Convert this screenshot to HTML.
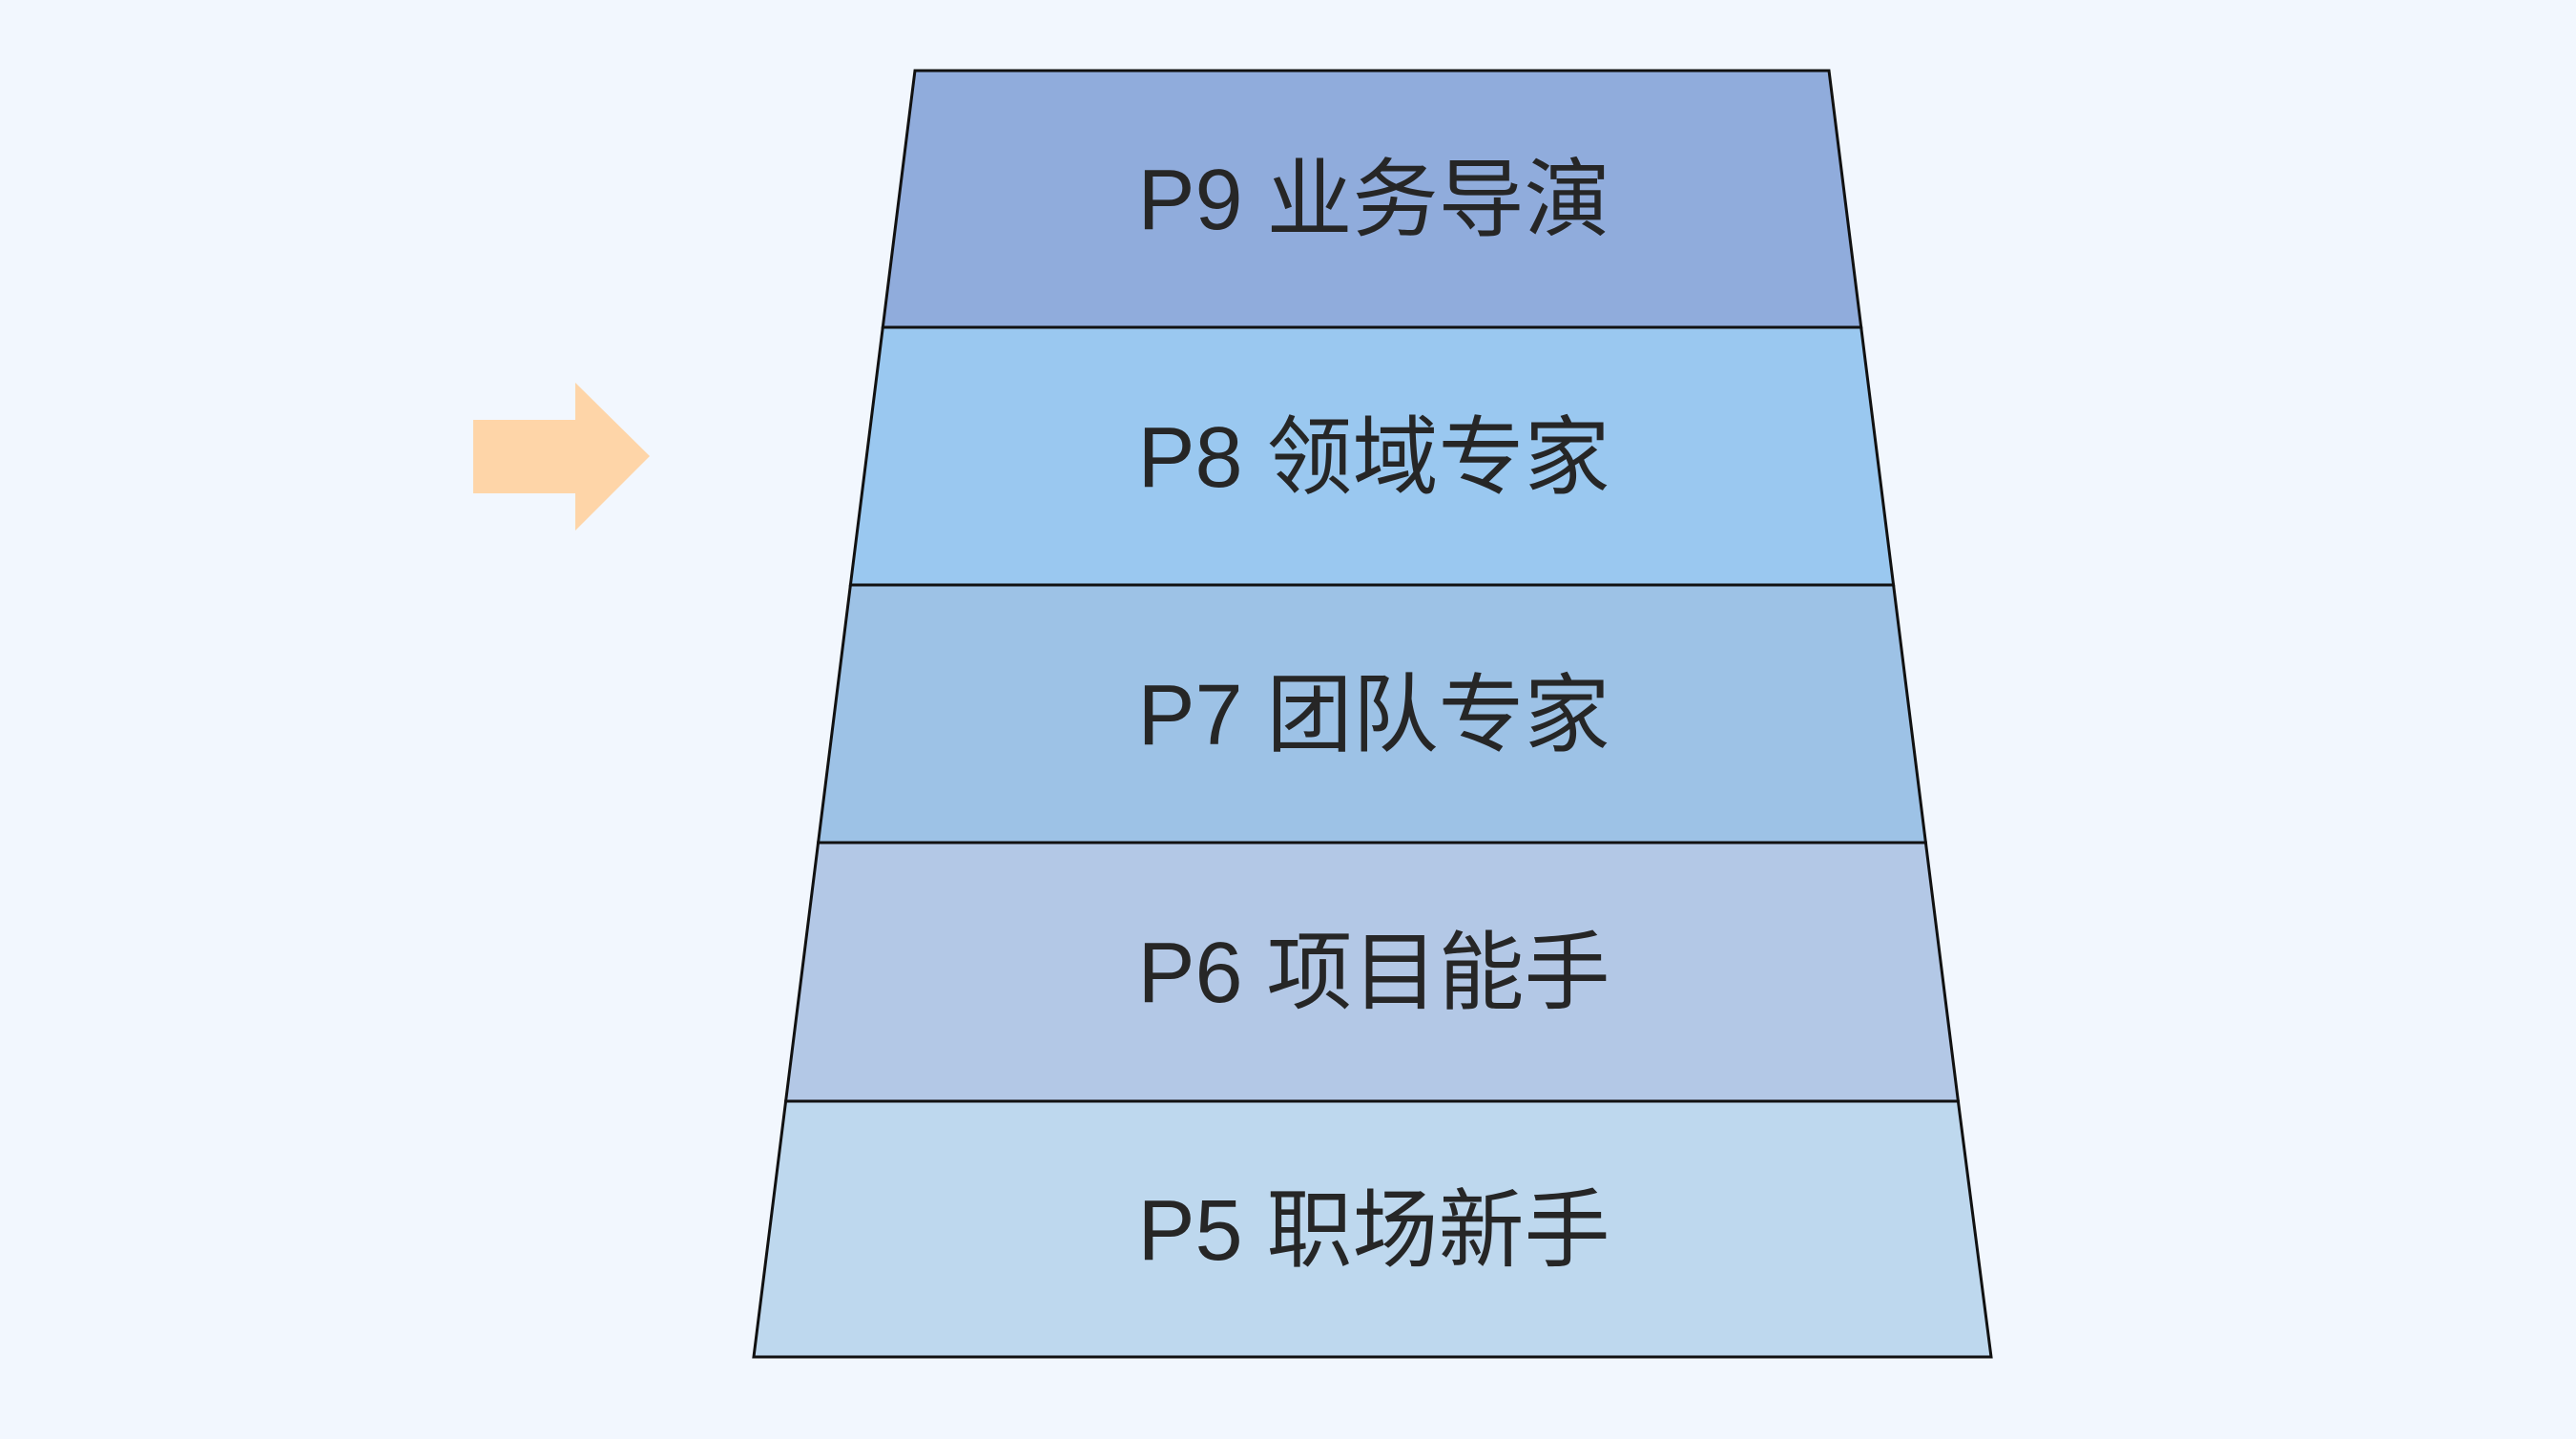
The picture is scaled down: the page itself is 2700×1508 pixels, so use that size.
<!DOCTYPE html>
<html><head><meta charset="utf-8"><style>
html,body{margin:0;padding:0;background:#f2f7fe;}
svg{display:block;}
text{font-family:"Liberation Sans","Noto Sans CJK SC",sans-serif;font-size:90px;fill:#262626;text-anchor:middle;}
</style></head><body>
<svg width="2700" height="1508" viewBox="0 0 2700 1508" xmlns="http://www.w3.org/2000/svg">
<rect width="2700" height="1508" fill="#f2f7fe"/>
<polygon points="496,440 603,440 603,401 681,478 603,556 603,517 496,517" fill="#fed5a8"/>
<g stroke="#111" stroke-width="3" stroke-linejoin="miter">
<polygon points="959,74 1917,74 1950.7,343 925.3,343" fill="#90acdc"/>
<polygon points="925.3,343 1950.7,343 1984.6,613 891.4,613" fill="#9ac8f0"/>
<polygon points="891.4,613 1984.6,613 2018.4,883 857.6,883" fill="#9dc2e6"/>
<polygon points="857.6,883 2018.4,883 2052.4,1154 823.6,1154" fill="#b3c8e6"/>
<polygon points="823.6,1154 2052.4,1154 2087,1422 790,1422" fill="#bed8ee"/>
</g>
<text x="1440" y="240">P9 业务导演</text>
<text x="1440" y="510">P8 领域专家</text>
<text x="1440" y="780">P7 团队专家</text>
<text x="1440" y="1050">P6 项目能手</text>
<text x="1440" y="1320">P5 职场新手</text>
</svg>
</body></html>
